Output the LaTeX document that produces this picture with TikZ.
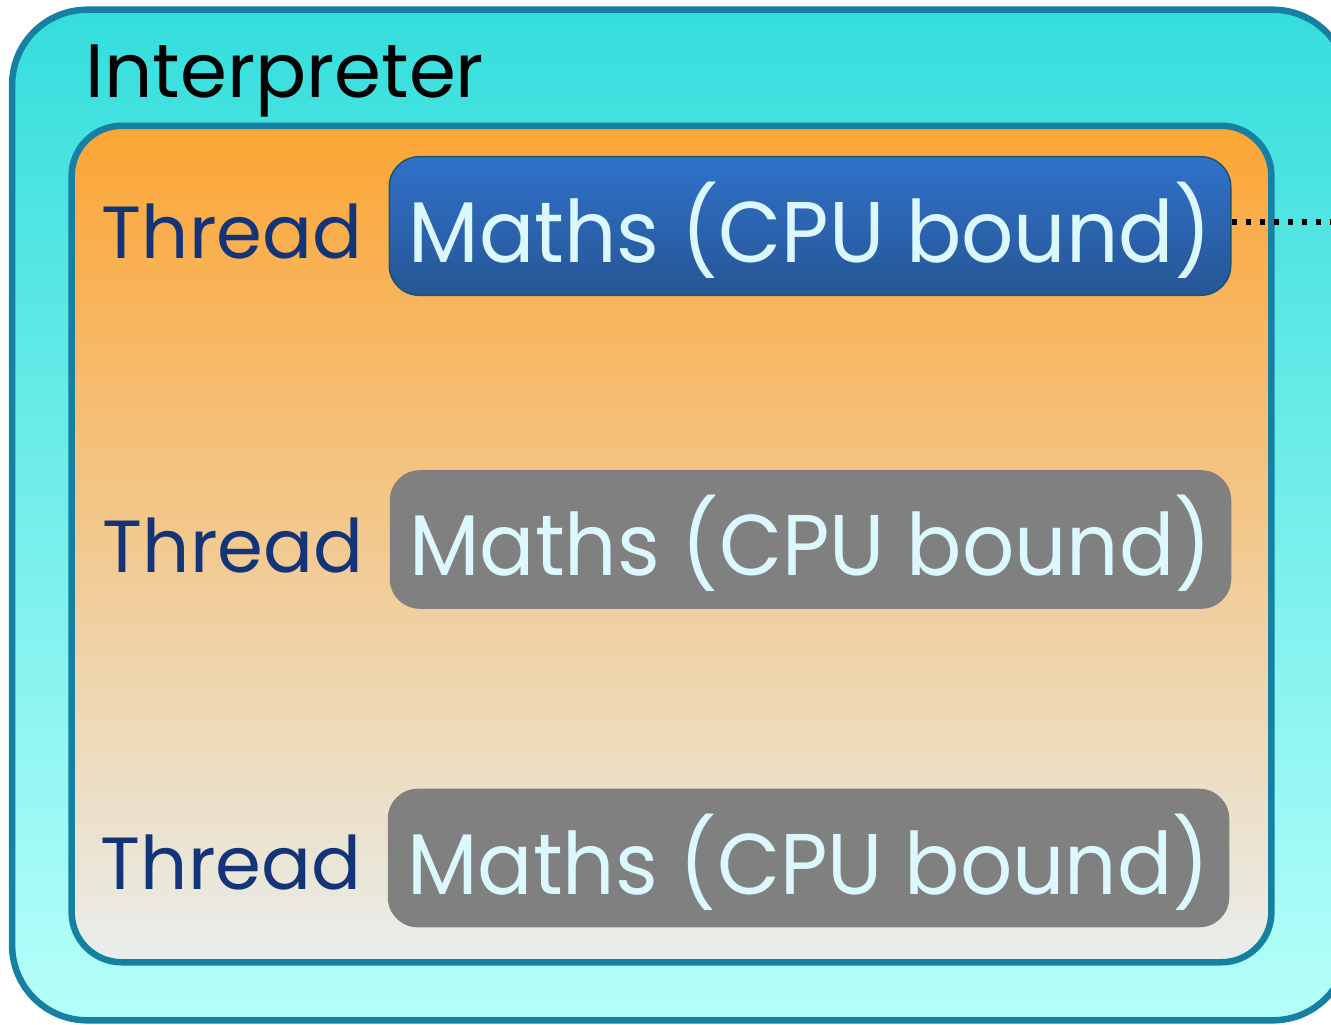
\documentclass[tikz,border=0pt]{standalone}
\usepackage{fontspec}
\setmainfont{Poppins}
\definecolor{frameline}{RGB}{22,128,162}
\definecolor{interptop}{RGB}{52,222,220}
\definecolor{interpbot}{RGB}{182,255,250}
\definecolor{threadtop}{RGB}{252,165,52}
\definecolor{threadbot}{RGB}{232,238,236}
\definecolor{cputop}{RGB}{48,113,202}
\definecolor{cpubot}{RGB}{38,86,148}
\definecolor{cpuline}{RGB}{30,84,112}
\definecolor{idlegray}{RGB}{128,128,128}
\definecolor{tasktext}{RGB}{220,248,255}
\definecolor{threadtext}{RGB}{20,52,122}
\newcommand{\tasktitle}{\scalebox{0.95}[1]{Maths (CPU bound)}}
\tikzset{
  interpbox/.style={draw=frameline, line width=0.065cm, rounded corners=0.75cm,
    top color=interptop, bottom color=interpbot, inner sep=0pt},
  threadarea/.style={draw=frameline, line width=0.065cm, rounded corners=0.5cm,
    top color=threadtop, bottom color=threadbot, inner sep=0pt},
  taskbox/.style={rounded corners=0.3cm, minimum width=8.41cm, minimum height=1.385cm,
    inner sep=0pt, text=tasktext, font=\fontsize{24.5}{24.5}\selectfont,
    text height=0.9cm, text depth=0.18cm},
  runningtask/.style={taskbox, top color=cputop, bottom color=cpubot,
    draw=cpuline, line width=0.015cm},
  waitingtask/.style={taskbox, fill=idlegray},
  threadlabel/.style={anchor=base east, inner sep=0pt, text=threadtext,
    font=\fontsize{21}{21}\selectfont},
  gilwait/.style={line width=0.06cm, dash pattern=on 0.055cm off 0.085cm}
}
\begin{document}
\begin{tikzpicture}[x=0.01cm,y=-0.01cm]
  \useasboundingbox (0,0) rectangle (1331,1024);
  \clip (0,0) rectangle (1331,1024);
  % interpreter frame and the area holding its threads
  \node[interpbox, minimum width=13.35cm, minimum height=10.1cm] (interp) at (680,515) {};
  \node[threadarea, minimum width=11.99cm, minimum height=8.36cm] (threads) at (671.5,544) {};
  \node[anchor=base west, inner sep=0pt, font=\fontsize{21.5}{21.5}\selectfont] (interplabel) at (85,97) {Interpreter};
  % one running task and two waiting tasks
  \node[runningtask] (task1) at (810,226) {\tasktitle};
  \node[waitingtask] (task2) at (810.5,539.5) {\tasktitle};
  \node[waitingtask] (task3) at (808.5,858) {\tasktitle};
  \node[threadlabel] (thread1) at (363,258) {Thread};
  \node[threadlabel] (thread2) at (364,572) {Thread};
  \node[threadlabel] (thread3) at (362,889) {Thread};
  % the running task reaches out of the interpreter
  \coordinate (outside) at (1345,222);
  \draw[gilwait] (task1.east |- 0,222) -- (outside);
\end{tikzpicture}
\end{document}
